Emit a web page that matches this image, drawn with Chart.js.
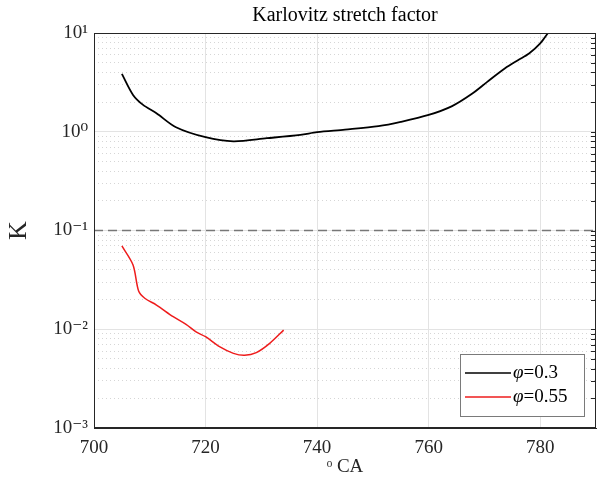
<!DOCTYPE html>
<html>
<head>
<meta charset="utf-8">
<script src="https://cdn.jsdelivr.net/npm/chart.js@4.4.0/dist/chart.umd.min.js"></script>
<style>
  body { margin: 0; background: #fff; }
</style>
</head>
<body>
<canvas id="kChart" width="597" height="482"></canvas>
<script>
// values
const phi03X = [705, 707, 708.8, 711.2, 714.7, 720, 725, 731, 737, 740, 745, 751, 755, 760, 764.2, 767.7, 770.5, 773.7, 776, 778, 780, 781.4];
const phi03K = [3.85, 2.36, 1.87, 1.54, 1.11, 0.88, 0.80, 0.86, 0.93, 0.99, 1.05, 1.14, 1.26, 1.48, 1.82, 2.41, 3.2, 4.39, 5.3, 6.2, 7.85, 10];
const phi055X = [705, 707, 708, 709.1, 711.2, 714.2, 716.5, 718.3, 720, 722.5, 725, 727, 729.1, 731.5, 734];
const phi055K = [0.0697, 0.0448, 0.0244, 0.0206, 0.0176, 0.0134, 0.0112, 0.0094, 0.0084, 0.00666, 0.0057, 0.00545, 0.0058, 0.0072, 0.0098];
const refLineX = [700, 790];
const refLineK = [0.1, 0.1];

const xTicks = [700, 720, 740, 760, 780];
const yTicks = [1e-3, 1e-2, 1e-1, 1, 10];
const yTickLabels = ['10⁻³', '10⁻²', '10⁻¹', '10⁰', '10¹'];
const seriesSymbol = 'φ';
const seriesValues = ['=0.3', '=0.55'];
const titleText = 'Karlovitz stretch factor';

const serif = "'Liberation Serif', 'DejaVu Serif', serif";

function toPoints(xs, ys) {
  return xs.map((x, i) => ({ x: x, y: ys[i] }));
}

// minor log positions (2..9 per decade) for the dotted grid
const minorTicks = [];
for (let e = -3; e < 1; e++) {
  for (let m = 2; m <= 9; m++) minorTicks.push(m * Math.pow(10, e));
}

const boxAndLegend = {
  id: 'boxAndLegend',
  afterDraw(chart) {
    const ctx = chart.ctx;
    const a = chart.chartArea;
    ctx.save();
    // title centred over plot area
    ctx.fillStyle = '#000';
    ctx.font = '20px ' + serif;
    ctx.textAlign = 'center';
    ctx.textBaseline = 'middle';
    ctx.fillText(titleText, (a.left + a.right) / 2, 16);

    // axes box
    ctx.strokeStyle = '#262626';
    ctx.lineWidth = 1;
    ctx.strokeRect(a.left + 0.5, a.top + 0.5, a.right - a.left - 1, a.bottom - a.top - 1);

    // short inward ticks on the right edge at minor positions
    const ys = chart.scales.y;
    ctx.beginPath();
    minorTicks.concat(yTicks).forEach(v => {
      const p = Math.round(ys.getPixelForValue(v)) + 0.5;
      ctx.moveTo(a.right - 5, p);
      ctx.lineTo(a.right, p);
    });
    ctx.stroke();

    // legend inside bottom right
    const items = chart.data.datasets.filter(d => d.label);
    const w = 124, rowH = 24, h = items.length * rowH + 14;
    const x0 = a.right - w - 12, y0 = a.bottom - h - 12;
    ctx.fillStyle = '#fff';
    ctx.fillRect(x0, y0, w, h);
    ctx.strokeStyle = '#7a7a7a';
    ctx.strokeRect(x0 + 0.5, y0 + 0.5, w, h);
    ctx.textAlign = 'left';
    items.forEach((d, i) => {
      const y = y0 + 19 + i * rowH;
      ctx.strokeStyle = d.borderColor;
      ctx.lineWidth = 1.5;
      ctx.beginPath();
      ctx.moveTo(x0 + 5, y);
      ctx.lineTo(x0 + 51, y);
      ctx.stroke();
      ctx.fillStyle = '#000';
      ctx.font = 'italic 19px ' + serif;
      ctx.fillText(seriesSymbol, x0 + 53, y);
      const sw = ctx.measureText(seriesSymbol).width;
      ctx.font = '19px ' + serif;
      ctx.fillText(d.label.slice(seriesSymbol.length), x0 + 53 + sw, y);
    });
    ctx.restore();
  }
};

new Chart(document.getElementById('kChart').getContext('2d'), {
  type: 'line',
  data: {
    datasets: [
      {
        label: seriesSymbol + seriesValues[0],
        data: toPoints(phi03X, phi03K),
        borderColor: '#000000',
        borderWidth: 1.8,
        pointRadius: 0,
        tension: 0.3,
        fill: false
      },
      {
        label: seriesSymbol + seriesValues[1],
        data: toPoints(phi055X, phi055K),
        borderColor: '#ee1c1c',
        borderWidth: 1.5,
        pointRadius: 0,
        tension: 0.3,
        fill: false
      },
      {
        label: '',
        data: toPoints(refLineX, refLineK),
        borderColor: '#777777',
        borderWidth: 1.5,
        borderDash: [9, 5],
        pointRadius: 0,
        fill: false
      }
    ]
  },
  options: {
    responsive: false,
    animation: false,
    layout: { padding: { top: 33, right: 1 } },
    plugins: {
      legend: { display: false },
      title: { display: false },
      tooltip: { enabled: false }
    },
    scales: {
      x: {
        type: 'linear',
        min: 700,
        max: 790,
        afterBuildTicks: s => { s.ticks = xTicks.map(v => ({ value: v })); },
        afterFit: s => { s.height = 54; },
        grid: { color: '#e3e3e3', drawTicks: false },
        border: { color: '#262626' },
        ticks: {
          color: '#262626',
          padding: 9,
          maxRotation: 0,
          font: { family: serif, size: 19 }
        },
        title: {
          display: true,
          text: 'ᵒ CA',
          color: '#262626',
          padding: { top: 0 },
          font: { family: serif, size: 19 }
        }
      },
      y: {
        type: 'logarithmic',
        min: 1e-3,
        max: 10,
        afterBuildTicks: s => { s.ticks = yTicks.map(v => ({ value: v })); },
        afterFit: s => { s.width = 94; },
        grid: { color: '#e3e3e3', drawTicks: false },
        border: { color: '#262626' },
        ticks: {
          color: '#262626',
          padding: 6,
          font: { family: serif, size: 19 },
          callback: v => {
            const i = yTicks.findIndex(t => Math.abs(Math.log10(t) - Math.log10(v)) < 1e-6);
            return i >= 0 ? yTickLabels[i] : '';
          }
        },
        title: {
          display: true,
          text: 'K',
          color: '#262626',
          padding: { bottom: 2 },
          font: { family: serif, size: 26 }
        }
      },
      yMinor: {
        type: 'logarithmic',
        position: 'right',
        min: 1e-3,
        max: 10,
        afterBuildTicks: s => { s.ticks = minorTicks.map(v => ({ value: v })); },
        afterFit: s => { s.width = 0; },
        grid: { color: '#d6d6d6', drawTicks: false, lineWidth: 1 },
        border: { display: false, dash: [1, 3] },
        ticks: { display: false }
      }
    }
  },
  plugins: [boxAndLegend]
});
</script>
</body>
</html>
